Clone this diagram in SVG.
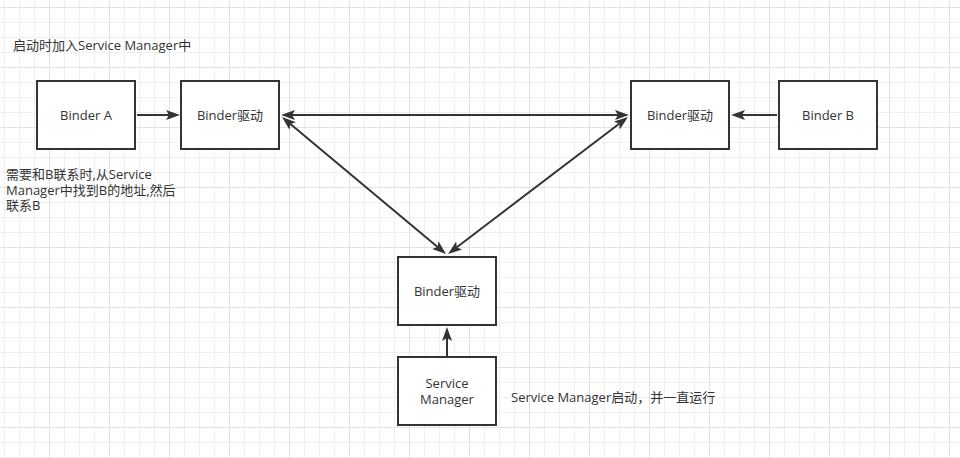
<svg xmlns="http://www.w3.org/2000/svg" width="960" height="458" viewBox="0 0 960 458">
<defs>
<style>
.box{fill:#fff;stroke:#333;stroke-width:2}
.lbl{font-family:"Open Sans","Noto Sans CJK SC",sans-serif;font-size:13px;fill:#333}
.c{text-anchor:middle}
.edge{stroke:#333;stroke-width:2;fill:none}
.e1{marker-end:url(#arr)}
.e2{marker-start:url(#arr);marker-end:url(#arr)}
</style>
<pattern id="grid" x="49" y="7" width="60" height="60" patternUnits="userSpaceOnUse">
<rect x="15" y="0" width="1" height="60" fill="#f0f0f0"/>
<rect x="30" y="0" width="1" height="60" fill="#f0f0f0"/>
<rect x="45" y="0" width="1" height="60" fill="#f0f0f0"/>
<rect x="0" y="15" width="60" height="1" fill="#f0f0f0"/>
<rect x="0" y="30" width="60" height="1" fill="#f0f0f0"/>
<rect x="0" y="45" width="60" height="1" fill="#f0f0f0"/>
<rect x="0" y="0" width="1" height="60" fill="#e2e2e2"/>
<rect x="0" y="0" width="60" height="1" fill="#e2e2e2"/>
</pattern>
<marker id="arr" viewBox="0 0 14 10" markerWidth="14" markerHeight="10" markerUnits="userSpaceOnUse" refX="3" refY="5" orient="auto-start-reverse">
<path d="M0,0 L14,5 L0,10 L3,5 Z" fill="#333"/>
</marker>
</defs>
<rect width="960" height="458" fill="#fff"/>
<rect width="960" height="458" fill="url(#grid)"/>

<g id="connectors">
<line class="edge e1" x1="137" y1="115" x2="169" y2="115"/>
<line class="edge e1" x1="777" y1="115" x2="742" y2="115"/>
<line class="edge e2" x1="292" y1="115" x2="618" y2="115"/>
<line class="edge e2" x1="290.4" y1="124.1" x2="437.6" y2="247"/>
<line class="edge e2" x1="619.2" y1="123.7" x2="456.8" y2="247.3"/>
<line class="edge e1" x1="447" y1="356" x2="447" y2="338"/>
</g>

<g id="binderA">
<rect class="box" x="37" y="81" width="98" height="68"/>
<text class="lbl c" x="86" y="119.5">Binder A</text>
</g>
<g id="driverLeft">
<rect class="box" x="181" y="81" width="98" height="68"/>
<text class="lbl c" x="230" y="119.5">Binder驱动</text>
</g>
<g id="driverRight">
<rect class="box" x="631" y="81" width="98" height="68"/>
<text class="lbl c" x="680" y="119.5">Binder驱动</text>
</g>
<g id="binderB">
<rect class="box" x="779" y="81" width="98" height="68"/>
<text class="lbl c" x="828" y="119.5">Binder B</text>
</g>
<g id="driverBottom">
<rect class="box" x="398" y="257" width="98" height="68"/>
<text class="lbl c" x="447" y="296">Binder驱动</text>
</g>
<g id="serviceManager">
<rect class="box" x="398" y="357" width="98" height="68"/>
<text class="lbl c" x="447" y="388"><tspan x="447" y="388">Service</tspan><tspan x="447" y="404">Manager</tspan></text>
</g>

<g id="note-start">
<text class="lbl" x="13" y="49.5">启动时加入Service Manager中</text>
</g>
<g id="note-contact">
<text class="lbl" x="6" y="178.5"><tspan x="6" y="178.5">需要和B联系时,从Service</tspan><tspan x="6" y="194.5">Manager中找到B的地址,然后</tspan><tspan x="6" y="210">联系B</tspan></text>
</g>
<g id="note-sm">
<text class="lbl" x="511" y="401.5">Service Manager启动，并一直运行</text>
</g>
</svg>
